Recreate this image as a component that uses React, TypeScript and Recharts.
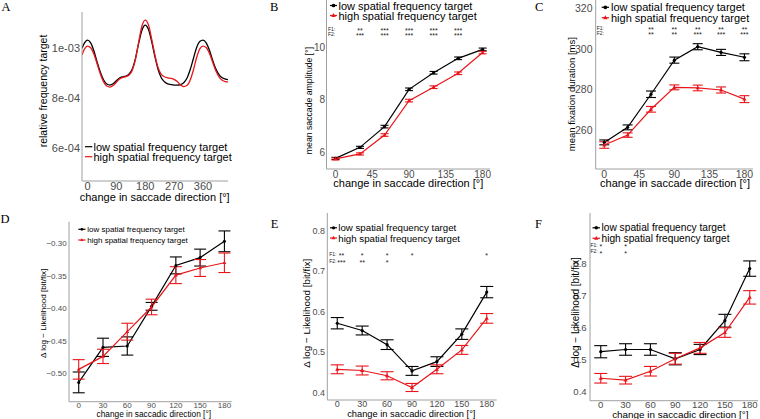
import React from "react";
import { ComposedChart, Line, Scatter, XAxis, YAxis, ErrorBar } from "recharts";

const SANS = "'Liberation Sans', Arial, Helvetica, sans-serif";
const SERIF = "'Liberation Serif', 'Times New Roman', serif";
const BLACK = "#000000";
const RED = "#e8161b";
const AXIS = "#a0a0a0";
const TICK = "#4d4d4d";

const LEGEND_LABELS = ["low spatial frequency target", "high spatial frequency target"];

// ---- panel A: relative frequency (values x 1e-3)
const A_DEG = [-17, -10, 0, 10, 20, 30, 40, 50, 60, 70, 80, 90, 100, 110, 120, 130, 140, 150, 160, 170, 180, 190, 200, 210, 220, 230, 240, 250, 260, 270, 280, 290, 300, 310, 320, 330, 340, 350, 360, 370, 380, 390, 400, 410, 420, 430, 438];
const A_LOW = [1.000, 1.020, 1.033, 1.022, 0.990, 0.945, 0.905, 0.874, 0.857, 0.853, 0.858, 0.870, 0.881, 0.886, 0.889, 0.897, 0.918, 0.962, 1.022, 1.073, 1.093, 1.076, 1.028, 0.968, 0.916, 0.882, 0.866, 0.858, 0.855, 0.853, 0.853, 0.855, 0.862, 0.880, 0.914, 0.958, 1.002, 1.027, 1.033, 1.022, 0.993, 0.953, 0.918, 0.895, 0.882, 0.877, 0.875];
const A_HIGH = [0.973, 0.995, 1.009, 1.002, 0.977, 0.938, 0.898, 0.866, 0.849, 0.845, 0.851, 0.864, 0.877, 0.884, 0.887, 0.893, 0.913, 0.958, 1.028, 1.090, 1.113, 1.094, 1.038, 0.975, 0.923, 0.896, 0.886, 0.882, 0.880, 0.876, 0.867, 0.853, 0.847, 0.851, 0.872, 0.912, 0.962, 0.998, 1.009, 1.003, 0.980, 0.945, 0.910, 0.886, 0.872, 0.867, 0.866];
const A_X_TICKS = [0, 90, 180, 270, 360];
const A_Y_TICKS = [0.6, 0.8, 1.0];
const A_Y_LABELS = ["6e-04", "8e-04", "1e-03"];

const DIRS = [0, 30, 60, 90, 120, 150, 180];
const TICKS_45 = [0, 45, 90, 135, 180];

// ---- panel B: mean saccade amplitude
const B_LOW = [5.77, 6.19, 6.98, 8.40, 9.03, 9.58, 9.92];
const B_LOW_ERR = [0.04, 0.04, 0.05, 0.05, 0.05, 0.05, 0.05];
const B_HIGH = [5.75, 5.94, 6.66, 7.97, 8.48, 9.01, 9.80];
const B_HIGH_ERR = [0.04, 0.04, 0.05, 0.05, 0.05, 0.05, 0.05];
const B_STAR_X = [30, 60, 90, 120, 150];
const B_F1 = ["**", "***", "***", "***", "***"];
const B_F2 = ["***", "***", "***", "***", "***"];

// ---- panel C: mean fixation duration
const C_LOW = [254.0, 261.4, 277.7, 294.5, 301.1, 298.3, 295.9];
const C_LOW_ERR = [1.2, 1.2, 1.6, 1.5, 1.5, 1.5, 1.7];
const C_HIGH = [252.7, 257.6, 270.3, 281.1, 280.8, 279.8, 275.3];
const C_HIGH_ERR = [1.6, 1.1, 1.4, 1.2, 1.4, 1.5, 1.7];
const C_STAR_X = [60, 90, 120, 150, 180];
const C_F1 = ["**", "**", "**", "**", "**"];
const C_F2 = ["**", "**", "***", "***", "***"];

// ---- panel D
const D_LOW = [-0.514, -0.460, -0.458, -0.397, -0.334, -0.322, -0.297];
const D_LOW_ERR = [0.016, 0.014, 0.014, 0.006, 0.013, 0.013, 0.016];
const D_HIGH = [-0.494, -0.474, -0.436, -0.398, -0.349, -0.338, -0.330];
const D_HIGH_ERR = [0.015, 0.011, 0.013, 0.012, 0.013, 0.013, 0.015];

// ---- panel E
const E_LOW = [0.571, 0.553, 0.518, 0.453, 0.476, 0.544, 0.648];
const E_LOW_ERR = [0.014, 0.011, 0.012, 0.011, 0.012, 0.013, 0.014];
const E_HIGH = [0.457, 0.454, 0.441, 0.412, 0.457, 0.505, 0.583];
const E_HIGH_ERR = [0.011, 0.011, 0.010, 0.010, 0.011, 0.011, 0.012];
const E_F1_X = [5, 30, 60, 90, 180];
const E_F1 = ["**", "*", "*", "*", "*"];
const E_F2_X = [5, 30, 60];
const E_F2 = ["***", "**", "*"];

// ---- panel F
const F_LOW = [0.525, 0.532, 0.532, 0.503, 0.532, 0.622, 0.785];
const F_LOW_ERR = [0.019, 0.018, 0.018, 0.019, 0.016, 0.020, 0.024];
const F_HIGH = [0.442, 0.436, 0.464, 0.503, 0.537, 0.585, 0.695];
const F_HIGH_ERR = [0.015, 0.012, 0.015, 0.017, 0.017, 0.015, 0.021];
const F_F1_X = [0, 30];
const F_F1 = ["*", "*"];
const F_F2_X = [0, 30];
const F_F2 = ["*", "*"];

type Pt = { x: number; y: number; e?: number };
type Note = { x: number; y: number; t: string; size: number; anchor: "start" | "middle"; lift: number };
type Ser = { pts: Pt[]; color: string; marker: "dot" | "tri" | "none" };
type Cfg = {
  box: number[];
  plot: number[];
  xDomain: [number, number];
  yDomain: [number, number];
  xTicks: number[];
  yTicks: number[];
  fmt: (v: number) => string;
  tickFont: number;
  xGap: number;
  yGap: number;
  series: Ser[];
  notes: Note[];
  curve: "linear" | "monotone";
  lw: number;
  cap: number;
  mk: number;
};

const zip = (xs: number[], ys: number[], es?: number[]): Pt[] =>
  xs.map((x, i) => ({ x, y: ys[i], e: es ? es[i] : undefined }));

const starRow = (xs: number[], ts: string[], y: number, size: number): Note[] =>
  xs.map((x, i) => ({ x, y, t: ts[i], size, anchor: "middle", lift: 0.58 }));

const rowLabel = (x: number, y: number, t: string, size: number): Note =>
  ({ x, y, t, size, anchor: "start", lift: 0.36 });

const minus = (s: string) => s.replace("-", "\u2212");

const PANELS: Cfg[] = [
  {
    box: [0, 0, 250, 210], plot: [82, 12, 228, 181],
    xDomain: [-17, 438], yDomain: [0.4692, 1.1452],
    xTicks: A_X_TICKS, yTicks: A_Y_TICKS,
    fmt: (v) => A_Y_LABELS[A_Y_TICKS.indexOf(v)] ?? String(v),
    tickFont: 11, xGap: 1, yGap: 2,
    series: [
      { pts: zip(A_DEG, A_LOW), color: BLACK, marker: "none" },
      { pts: zip(A_DEG, A_HIGH), color: RED, marker: "none" },
    ],
    notes: [], curve: "monotone", lw: 1.3, cap: 0, mk: 0,
  },
  {
    box: [250, 0, 255, 210], plot: [326.5, 0, 490, 169],
    xDomain: [-11, 189], yDomain: [5.366, 11.8],
    xTicks: TICKS_45, yTicks: [6, 8, 10],
    fmt: (v) => String(v),
    tickFont: 10, xGap: 1.5, yGap: 1.5,
    series: [
      { pts: zip(DIRS, B_LOW, B_LOW_ERR), color: BLACK, marker: "dot" },
      { pts: zip(DIRS, B_HIGH, B_HIGH_ERR), color: RED, marker: "tri" },
    ],
    notes: [
      rowLabel(-9.2, 10.69, "F1:", 5), rowLabel(-9.2, 10.5, "F2:", 5),
      ...starRow(B_STAR_X, B_F1, 10.69, 7), ...starRow(B_STAR_X, B_F2, 10.5, 7),
    ],
    curve: "linear", lw: 1.2, cap: 4, mk: 1.6,
  },
  {
    box: [505, 0, 255, 210], plot: [595.7, 0, 753, 169],
    xDomain: [-11, 191], yDomain: [240.9, 324.1],
    xTicks: TICKS_45, yTicks: [260, 280, 300, 320],
    fmt: (v) => String(v),
    tickFont: 10.5, xGap: 1.5, yGap: 3.2,
    series: [
      { pts: zip(DIRS, C_LOW, C_LOW_ERR), color: BLACK, marker: "dot" },
      { pts: zip(DIRS, C_HIGH, C_HIGH_ERR), color: RED, marker: "tri" },
    ],
    notes: [
      rowLabel(-9.7, 310.1, "F1:", 5), rowLabel(-9.7, 307.7, "F2:", 5),
      ...starRow(C_STAR_X, C_F1, 310.1, 7), ...starRow(C_STAR_X, C_F2, 307.7, 7),
    ],
    curve: "linear", lw: 1.2, cap: 5, mk: 1.6,
  },
  {
    box: [0, 210, 250, 209], plot: [69, 221.7, 231.7, 401.7],
    xDomain: [-12, 189], yDomain: [-0.5437, -0.2668],
    xTicks: DIRS, yTicks: [-0.5, -0.45, -0.4, -0.35, -0.3],
    fmt: (v) => minus(v.toFixed(2)),
    tickFont: 8, xGap: 0.2, yGap: 2.3,
    series: [
      { pts: zip(DIRS, D_LOW, D_LOW_ERR), color: BLACK, marker: "dot" },
      { pts: zip(DIRS, D_HIGH, D_HIGH_ERR), color: RED, marker: "tri" },
    ],
    notes: [], curve: "linear", lw: 1.2, cap: 6, mk: 1.5,
  },
  {
    box: [250, 210, 255, 209], plot: [327.3, 213, 496.7, 400],
    xDomain: [-12, 192], yDomain: [0.381, 0.8438],
    xTicks: DIRS, yTicks: [0.4, 0.5, 0.6, 0.7, 0.8],
    fmt: (v) => v.toFixed(1),
    tickFont: 9, xGap: 0.5, yGap: 2.3,
    series: [
      { pts: zip(DIRS, E_LOW, E_LOW_ERR), color: BLACK, marker: "dot" },
      { pts: zip(DIRS, E_HIGH, E_HIGH_ERR), color: RED, marker: "tri" },
    ],
    notes: [
      rowLabel(-9.6, 0.7416, "F1:", 5), rowLabel(-9.6, 0.7257, "F2:", 5),
      ...starRow(E_F1_X, E_F1, 0.7416, 7), ...starRow(E_F2_X, E_F2, 0.7257, 7),
    ],
    curve: "linear", lw: 1.2, cap: 6.5, mk: 1.6,
  },
  {
    box: [505, 210, 255, 209], plot: [590, 213, 758, 400.7],
    xDomain: [-13, 190], yDomain: [0.3718, 0.9589],
    xTicks: DIRS, yTicks: [0.4, 0.5, 0.6, 0.7, 0.8],
    fmt: (v) => v.toFixed(1),
    tickFont: 9.6, xGap: 0.8, yGap: 3.3,
    series: [
      { pts: zip(DIRS, F_LOW, F_LOW_ERR), color: BLACK, marker: "dot" },
      { pts: zip(DIRS, F_HIGH, F_HIGH_ERR), color: RED, marker: "tri" },
    ],
    notes: [
      rowLabel(-12.5, 0.859, "F1:", 5), rowLabel(-12.5, 0.838, "F2:", 5),
      ...starRow(F_F1_X, F_F1, 0.859, 7), ...starRow(F_F2_X, F_F2, 0.838, 7),
    ],
    curve: "linear", lw: 1.2, cap: 6.5, mk: 1.6,
  },
];

const makeDot = (kind: "dot" | "tri", color: string, size: number) => (p: any) => {
  const { cx, cy, index } = p;
  if (cx == null || cy == null) return <g key={`n${index}`} />;
  if (kind === "tri") {
    const s = size * 1.35;
    return (
      <path key={`t${index}`} fill={color}
        d={`M${cx},${cy - s}L${cx + s * 0.95},${cy + s * 0.65}L${cx - s * 0.95},${cy + s * 0.65}Z`} />
    );
  }
  return <circle key={`c${index}`} cx={cx} cy={cy} r={size} fill={color} />;
};

const noteShape = (p: any) => {
  const n = p.payload as Note;
  if (p.cx == null || p.cy == null) return <g />;
  return (
    <text x={p.cx} y={p.cy + n.lift * n.size} textAnchor={n.anchor} fontSize={n.size}
      fontFamily={SANS} fill="#1a1a1a">{n.t}</text>
  );
};

const YW = 30;
const XH = 14;

function Panel({ c }: { c: Cfg }) {
  const [bx, by, bw, bh] = c.box;
  const [pl, pt, pr, pb] = c.plot;
  const margin = { left: pl - bx - YW, top: pt - by, right: bx + bw - pr, bottom: by + bh - pb - XH };
  const tick = { fill: TICK, fontSize: c.tickFont, fontFamily: SANS };
  return (
    <div style={{ position: "absolute", left: bx, top: by, width: bw, height: bh }}>
      <ComposedChart width={bw} height={bh} margin={margin}>
        <XAxis type="number" dataKey="x" domain={c.xDomain} ticks={c.xTicks} interval={0}
          allowDataOverflow height={XH} tickLine={false} tickSize={0} tickMargin={c.xGap}
          axisLine={{ stroke: AXIS, strokeWidth: 1 }} tick={tick} />
        <YAxis type="number" domain={c.yDomain} ticks={c.yTicks} interval={0}
          allowDataOverflow width={YW} tickLine={false} tickSize={0} tickMargin={c.yGap}
          axisLine={{ stroke: AXIS, strokeWidth: 1 }} tick={tick} tickFormatter={c.fmt} />
        {c.series.map((s, i) => (
          <Line key={i} data={s.pts} dataKey="y" type={c.curve} stroke={s.color} strokeWidth={c.lw}
            dot={s.marker === "none" ? false : makeDot(s.marker, s.color, c.mk)}
            activeDot={false} isAnimationActive={false}>
            {s.marker !== "none" && (
              <ErrorBar dataKey="e" direction="y" width={c.cap} stroke={s.color} strokeWidth={1.1}
                isAnimationActive={false} />
            )}
          </Line>
        ))}
        {c.notes.length > 0 && (
          <Scatter data={c.notes} dataKey="y" shape={noteShape} isAnimationActive={false} />
        )}
      </ComposedChart>
    </div>
  );
}

// legends: key segment x range, text start, row centres, font size, marker flag
const LEGENDS = [
  { k: [85, 92.3], tx: 93.5, rows: [146.7, 156.7], size: 11, mk: false },
  { k: [330, 337], tx: 338.5, rows: [5.5, 15.5], size: 11, mk: true },
  { k: [601.7, 609], tx: 611, rows: [7.3, 17.7], size: 11, mk: true },
  { k: [78.3, 85.5], tx: 87.3, rows: [229.3, 240], size: 8, mk: true },
  { k: [330, 337], tx: 338.3, rows: [227.8, 238], size: 9.7, mk: true },
  { k: [592.5, 600], tx: 601.5, rows: [227.8, 238.3], size: 10.2, mk: true },
];

const X_TITLE_A = "change in saccade direction [°]";
const X_TITLE_D = "change in saccadic direction [°]";
const Y_TITLE_L = "\u0394 log \u2212 Likelihood [bit/fix]";

const TITLES = [
  { x: 154.7, y: 196.7, rot: false, size: 11, t: X_TITLE_A },
  { x: 43, y: 91, rot: true, size: 10.5, t: "relative frequency target" },
  { x: 408.3, y: 183.3, rot: false, size: 11, t: X_TITLE_A },
  { x: 309, y: 100.5, rot: true, size: 8.7, t: "mean saccade amplitude [°]" },
  { x: 675, y: 183.3, rot: false, size: 11, t: X_TITLE_A },
  { x: 571.7, y: 94.2, rot: true, size: 9.5, t: "mean fixation duration [ms]" },
  { x: 153.8, y: 414, rot: false, size: 8.3, t: X_TITLE_D },
  { x: 43.3, y: 313.3, rot: true, size: 8.1, t: Y_TITLE_L },
  { x: 411.3, y: 414, rot: false, size: 9.3, t: X_TITLE_D },
  { x: 306.7, y: 313.3, rot: true, size: 9.9, t: Y_TITLE_L },
  { x: 680.3, y: 414.6, rot: false, size: 9.9, t: X_TITLE_D },
  { x: 575, y: 312.5, rot: true, size: 10, t: Y_TITLE_L },
];

const LETTERS = [
  { x: 1.5, y: 10.7, t: "A" },
  { x: 270, y: 10.7, t: "B" },
  { x: 535, y: 11, t: "C" },
  { x: 0.5, y: 223.3, t: "D" },
  { x: 270.7, y: 228.3, t: "E" },
  { x: 535, y: 228.3, t: "F" },
];

function Overlay() {
  return (
    <svg width={760} height={419} style={{ position: "absolute", left: 0, top: 0, pointerEvents: "none" }}>
      {LETTERS.map((l) => (
        <text key={l.t} x={l.x} y={l.y} fontFamily={SERIF} fontSize={12.5} fill="#000">{l.t}</text>
      ))}
      {TITLES.map((t, i) => (
        <text key={i} x={0} y={0} fontFamily={SANS} fontSize={t.size} fill="#000" textAnchor="middle"
          dominantBaseline="central"
          transform={`translate(${t.x},${t.y})${t.rot ? " rotate(-90)" : ""}`}>{t.t}</text>
      ))}
      {LEGENDS.map((lg, i) => (
        <g key={i}>
          {LEGEND_LABELS.map((lab, j) => {
            const y = lg.rows[j];
            const color = j === 0 ? BLACK : RED;
            const mx = (lg.k[0] + lg.k[1]) / 2;
            const s = lg.size * 0.17;
            return (
              <g key={j}>
                <line x1={lg.k[0]} x2={lg.k[1]} y1={y} y2={y} stroke={color} strokeWidth={1.2} />
                {lg.mk && j === 0 && <circle cx={mx} cy={y} r={s} fill={color} />}
                {lg.mk && j === 1 && (
                  <path fill={color} d={`M${mx},${y - s * 1.3}L${mx + s * 1.2},${y + s * 0.8}L${mx - s * 1.2},${y + s * 0.8}Z`} />
                )}
                <text x={lg.tx} y={y} fontFamily={SANS} fontSize={lg.size} fill="#000"
                  dominantBaseline="central">{lab}</text>
              </g>
            );
          })}
        </g>
      ))}
    </svg>
  );
}

export default function App() {
  return (
    <div style={{ position: "absolute", left: 0, top: 0, width: 760, height: 419, background: "#fff", overflow: "hidden" }}>
      {PANELS.map((c, i) => (
        <Panel key={i} c={c} />
      ))}
      <Overlay />
    </div>
  );
}
